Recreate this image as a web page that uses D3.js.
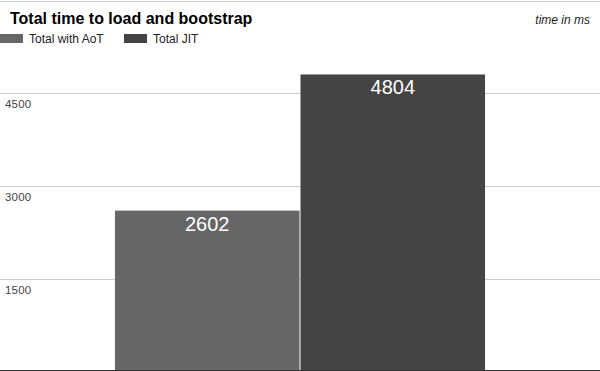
<!DOCTYPE html>
<html>
<head>
<meta charset="utf-8">
<script src="https://cdn.jsdelivr.net/npm/d3@7"></script>
<style>
  body { margin: 0; background: #fff; }
  text { font-family: "Liberation Sans", Arial, sans-serif; }
</style>
</head>
<body>
<div id="chart"></div>
<script>
/* Chart data */
var categories = ["Total time"];
var series = ["Total with AoT", "Total JIT"];
var values = [2602, 4804];
var colors = ["#666666", "#444444"];
var yTicks = [1500, 3000, 4500, 6000];

var width = 600, height = 371;

var svg = d3.select("#chart").append("svg")
    .attr("width", width)
    .attr("height", height);

/* Scales */
var y = d3.scaleLinear()
    .domain([0, 6000])
    .range([371.5, 0.5]);

var x0 = d3.scaleBand()
    .domain(categories)
    .range([0, width])
    .padding(0.237);

var x1 = d3.scaleBand()
    .domain(series)
    .range([0, x0.bandwidth()])
    .paddingInner(0.0054);

/* Gridlines and tick labels */
var grid = svg.append("g").attr("class", "grid");

grid.selectAll("line")
    .data(yTicks)
    .enter().append("line")
    .attr("x1", 0)
    .attr("x2", width)
    .attr("y1", function(d) { return Math.round(y(d)) + 0.5; })
    .attr("y2", function(d) { return Math.round(y(d)) + 0.5; })
    .style("stroke", "#cccccc")
    .style("stroke-width", 1);

grid.selectAll("text")
    .data(yTicks.filter(function(d) { return d < 6000; }))
    .enter().append("text")
    .attr("x", 5)
    .attr("y", function(d) { return y(d) + 15; })
    .style("font-size", "11.5px")
    .style("fill", "#444")
    .style("letter-spacing", "0.2px")
    .text(function(d) { return d; });

/* Bars */
var bars = svg.append("g")
    .selectAll("g")
    .data(categories)
    .enter().append("g")
    .attr("transform", function(d) { return "translate(" + x0(d) + ",0)"; });

var bar = bars.selectAll("g")
    .data(series.map(function(s, i) { return {name: s, value: values[i], color: colors[i]}; }))
    .enter().append("g");

bar.append("rect")
    .attr("x", function(d) { return x1(d.name); })
    .attr("y", function(d) { return y(d.value); })
    .attr("width", x1.bandwidth())
    .attr("height", function(d) { return y(0) - y(d.value); })
    .style("fill", function(d) { return d.color; });

bar.append("text")
    .attr("x", function(d) { return x1(d.name) + x1.bandwidth() / 2; })
    .attr("y", function(d) { return y(d.value) + 20; })
    .attr("text-anchor", "middle")
    .style("font-size", "20px")
    .style("fill", "#fff")
    .text(function(d) { return d.value; });

/* Baseline */
svg.append("line")
    .attr("x1", 0)
    .attr("x2", width)
    .attr("y1", 370.5)
    .attr("y2", 370.5)
    .style("stroke", "#333")
    .style("stroke-width", 1);

/* Title and unit note */
svg.append("text")
    .attr("x", 10)
    .attr("y", 24)
    .style("font-size", "16px")
    .style("font-weight", "bold")
    .style("fill", "#000")
    .text("Total time to load and bootstrap");

svg.append("text")
    .attr("x", 590)
    .attr("y", 24)
    .attr("text-anchor", "end")
    .style("font-size", "12px")
    .style("font-style", "italic")
    .style("fill", "#222")
    .text("time in ms");

/* Legend */
var legendX = [0, 124];
var leg = svg.append("g")
    .selectAll("g")
    .data(series)
    .enter().append("g")
    .attr("transform", function(d, i) { return "translate(" + legendX[i] + ",34)"; });

leg.append("rect")
    .attr("width", 23)
    .attr("height", 9)
    .style("fill", function(d, i) { return colors[i]; });

leg.append("text")
    .attr("x", 29)
    .attr("y", 9)
    .style("font-size", "12px")
    .style("fill", "#222")
    .text(function(d) { return d; });
</script>
</body>
</html>
